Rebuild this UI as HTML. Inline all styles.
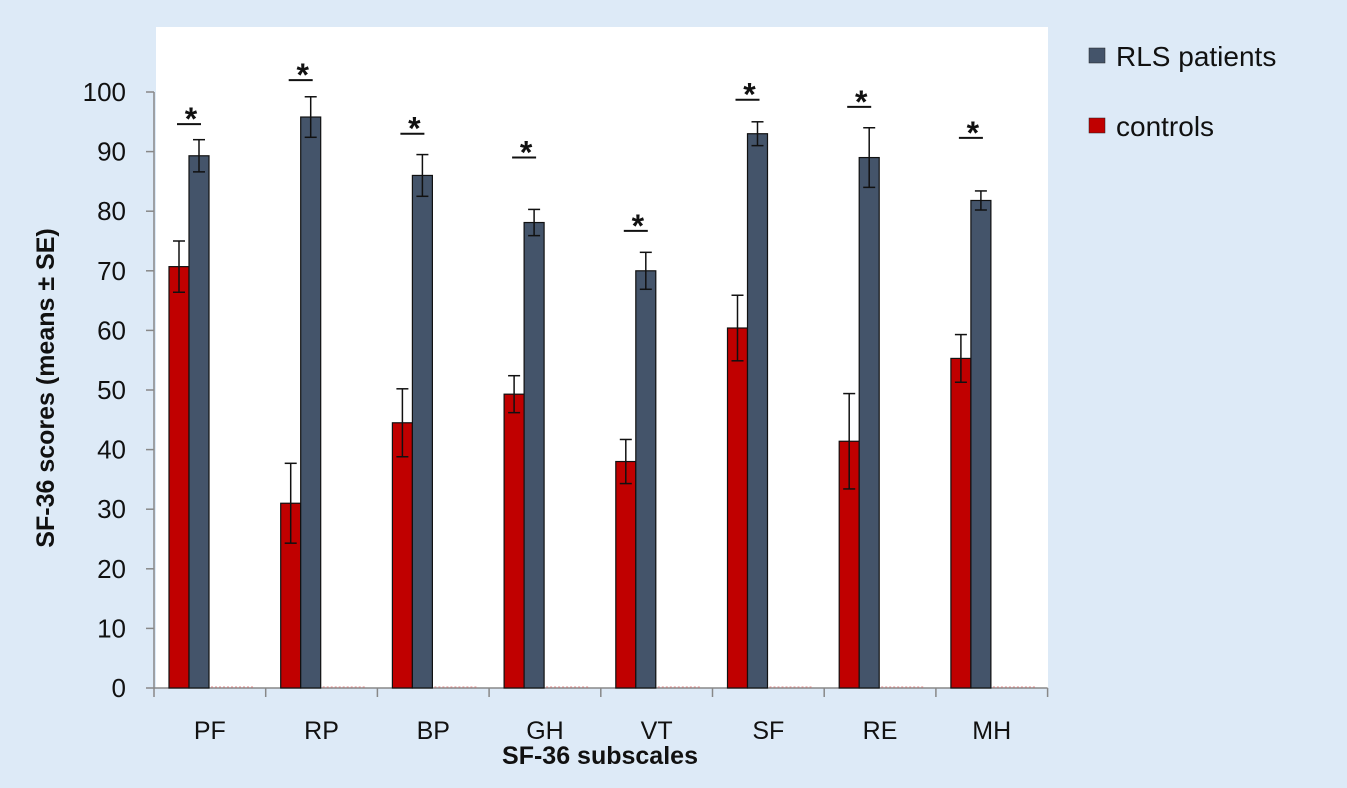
<!DOCTYPE html>
<html><head><meta charset="utf-8"><style>
body{margin:0;background:#ddeaf7;width:1347px;height:783px;overflow:hidden;font-family:"Liberation Sans",sans-serif}
</style></head><body>
<svg id="chart" width="1347" height="783" xmlns="http://www.w3.org/2000/svg">
<rect x="156" y="27" width="892" height="661" fill="#ffffff"/>
<g id="marks"></g>
<text transform="translate(54,388) rotate(-90)" text-anchor="middle" font-size="25" font-weight="bold" fill="#111">SF-36 scores (means ± SE)</text>
<text x="600" y="764" text-anchor="middle" font-size="25" font-weight="bold" fill="#111">SF-36 subscales</text>
<g>
<rect x="1089" y="48" width="16" height="15" fill="#44546a" stroke="#222" stroke-width="0.5"/>
<text x="1116" y="66" font-size="28" fill="#111">RLS patients</text>
<rect x="1089" y="118" width="16" height="15" fill="#c00000" stroke="#222" stroke-width="0.5"/>
<text x="1116" y="136" font-size="28" fill="#111">controls</text>
</g>
</svg>
<script>
const categories=["PF","RP","BP","GH","VT","SF","RE","MH"];
const controls=[70.7,31,44.5,49.3,38,60.4,41.4,55.3];
const controlsSE=[4.3,6.7,5.7,3.1,3.7,5.5,8,4];
const patients=[89.3,95.8,86,78.1,70,93,89,81.8];
const patientsSE=[2.7,3.4,3.5,2.2,3.1,2,5,1.6];
const sigLevel=[94.6,102,93,89,76.7,98.7,97.5,92.3];
const yTicks=[0,10,20,30,40,50,60,70,80,90,100];

const NS="http://www.w3.org/2000/svg";
const g=document.getElementById('marks');
const x0=154,band=111.7;
const y=v=>688-v*5.96;
const x=i=>x0+i*band;
function mk(t,a,p){const e=document.createElementNS(NS,t);for(const k in a)e.setAttribute(k,a[k]);(p||g).appendChild(e);return e;}

mk('line',{x1:x0,y1:y(100),x2:x0,y2:688,stroke:'#888','stroke-width':1.5});
mk('line',{x1:x0,y1:688,x2:x0+8*band,y2:688,stroke:'#888','stroke-width':1.5});
yTicks.forEach(v=>{
  const t=mk('line',{x1:x0-8,y1:y(v),x2:x0,y2:y(v),stroke:'#888','stroke-width':1.5});
  
  
  const l=mk('text',{x:x0-28,y:y(v)+9,'text-anchor':'end','font-size':26,fill:'#111'});
  l.textContent=v;
  
  
});
for(let i=0;i<=8;i++){mk('line',{x1:x(i),y1:688,x2:x(i),y2:697,stroke:'#888','stroke-width':1.5});}
function err(cx,v,se){
  mk('line',{x1:cx,y1:y(v+se),x2:cx,y2:y(v-se),stroke:'#111','stroke-width':1.5});
  mk('line',{x1:cx-6,y1:y(v+se),x2:cx+6,y2:y(v+se),stroke:'#111','stroke-width':1.5});
  mk('line',{x1:cx-6,y1:y(v-se),x2:cx+6,y2:y(v-se),stroke:'#111','stroke-width':1.5});
}
categories.forEach((c,i)=>{
  const bx=x(i);
  const r=mk('rect',{x:bx+15,y:y(controls[i]),width:20,height:688-y(controls[i]),fill:'#c00000',stroke:'#111','stroke-width':1.2});
  
  
  const b=mk('rect',{x:bx+35,y:y(patients[i]),width:20,height:688-y(patients[i]),fill:'#44546a',stroke:'#111','stroke-width':1.2});
  
  
  err(bx+25,controls[i],controlsSE[i]);
  err(bx+45,patients[i],patientsSE[i]);
  mk('line',{x1:bx+57,y1:687,x2:bx+100,y2:687,stroke:'#d88','stroke-width':1,'stroke-dasharray':'2,2'});
  const sy=y(sigLevel[i]);
  const s=mk('line',{x1:bx+23,y1:sy,x2:bx+47,y2:sy,stroke:'#111','stroke-width':2});
  
  
  const st=mk('text',{x:bx+37,y:sy+6,'text-anchor':'middle','font-size':32,'font-weight':'bold',fill:'#111'});
  st.textContent='*';
  
  
  const cl=mk('text',{x:bx+band/2,y:739,'text-anchor':'middle','font-size':25,fill:'#111'});
  cl.textContent=c;
  
  
});
</script>
</body></html>
